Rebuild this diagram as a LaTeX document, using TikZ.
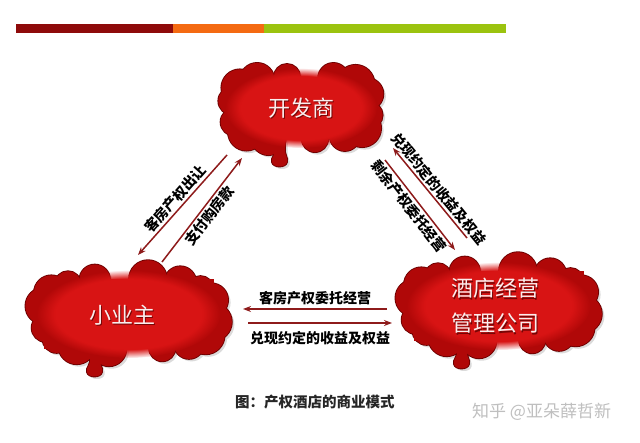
\documentclass[tikz,border=0pt]{standalone}
\usepackage{fontspec}
\newfontfamily\cjk{Noto Sans CJK SC}
\usetikzlibrary{arrows.meta,fadings}
\definecolor{barred}{HTML}{8E0A0A}
\definecolor{barorange}{HTML}{F46A12}
\definecolor{bargreen}{HTML}{9BC30F}
\definecolor{cloudbase}{HTML}{B00808}
\definecolor{cloudhi}{HTML}{D81414}
\definecolor{cloudedge}{HTML}{6E0000}
\definecolor{arrowred}{HTML}{8E1B1B}
\definecolor{cloudtext}{HTML}{FBEDED}
\tikzset{
  puffborder/.style={draw=cloudedge, line width=1.8pt, fill=cloudbase},
  pufffill/.style={fill=cloudbase},
  puffshadow/.style={fill=black!14},
  cloudlabel/.style={text=cloudtext, font=\cjk\fontsize{22}{35}\selectfont, align=center, inner sep=0pt},
  cloudlabelshadow/.style={text=black!70!red, opacity=0.7, font=\cjk\fontsize{22}{35}\selectfont, align=center, inner sep=0pt},
  arr/.style={-{Stealth[length=8pt,width=6pt]}, line width=1.5pt, draw=arrowred},
  lbl/.style={font=\cjk\bfseries\fontsize{14}{14}\selectfont, text=black, inner sep=2pt, sloped}
}
% #1 style, #2 cx, #3 cy, #4 inner half width, #5 inner half height, #6 number of puffs, #7 tail x
\newcommand\cloudpass[7]{%
  \foreach \i in {1,...,#6}{%
    \pgfmathsetmacro\tt{360*\i/#6+7}%
    \pgfmathsetmacro\cc{cos(\tt)}\pgfmathsetmacro\ss{sin(\tt)}%
    \pgfmathsetmacro\px{#2+#4*sign(\cc)*pow(abs(\cc),0.7)}%
    \pgfmathsetmacro\py{#3+#5*sign(\ss)*pow(abs(\ss),0.7)}%
    \pgfmathsetmacro\rr{16+3*sin(97*\i)}%
    \path[#1] (\px,\py) circle [radius=\rr];
  }%
  \pgfmathsetmacro\bb{#3+#5+15}%
  \path[#1] (#7-5,\bb-10) -- (#7-5,\bb-2) .. controls (#7-5,\bb+2) and (#7-9,\bb+3) .. (#7-8,\bb+8)
     .. controls (#7-7,\bb+14) and (#7+6,\bb+14) .. (#7+7,\bb+8)
     .. controls (#7+8,\bb+3) and (#7+5,\bb+2) .. (#7+5,\bb-2) -- (#7+5,\bb-10) -- cycle;
}
\begin{document}
\begin{tikzpicture}[x=1pt,y=-1pt]
\useasboundingbox (0,0) rectangle (640,443);
\fill[white] (0,0) rectangle (640,443);
% top bar
\fill[barred] (16,24.5) rectangle (173,33);
\fill[barorange] (173,24.5) rectangle (264,33);
\fill[bargreen] (264,24.5) rectangle (506,33);
% clouds (shapes drawn directly, labels as named nodes)
\begin{scope}[shift={(2.5,2.5)}]\cloudpass{puffshadow}{301}{108}{69}{31}{14}{280}\end{scope}
\cloudpass{puffborder}{301}{108}{69}{31}{14}{280}
\cloudpass{pufffill}{301}{108}{69}{31}{14}{280}
\fill[cloudbase] (232,77) rectangle (370,139);
\fill[cloudhi, path fading=circle with fuzzy edge 20 percent] (301,108) ellipse [x radius=76, y radius=40];
\node[cloudlabelshadow] (devs) at (302.2,109.2) {开发商};
\node[cloudlabel] (dev) at (301,108) {开发商};

\begin{scope}[shift={(2.5,2.5)}]\cloudpass{puffshadow}{128.5}{314}{85}{35}{16}{95}\end{scope}
\cloudpass{puffborder}{128.5}{314}{85}{35}{16}{95}
\cloudpass{pufffill}{128.5}{314}{85}{35}{16}{95}
\fill[cloudbase] (43.5,279) rectangle (213.5,349);
\fill[cloudhi, path fading=circle with fuzzy edge 20 percent] (128.5,314) ellipse [x radius=92, y radius=44];
\node[cloudlabelshadow] (owners) at (123.2,316.2) {小业主};
\node[cloudlabel] (owner) at (122,315) {小业主};

\begin{scope}[shift={(2.5,2.5)}]\cloudpass{puffshadow}{498.5}{306}{85}{35}{16}{462}\end{scope}
\cloudpass{puffborder}{498.5}{306}{85}{35}{16}{462}
\cloudpass{pufffill}{498.5}{306}{85}{35}{16}{462}
\fill[cloudbase] (413.5,271) rectangle (583.5,341);
\fill[cloudhi, path fading=circle with fuzzy edge 20 percent] (498.5,306) ellipse [x radius=92, y radius=44];
\node[cloudlabelshadow] (hotels) at (496.2,307.2) {酒店经营\\管理公司};
\node[cloudlabel] (hotel) at (495,306) {酒店经营\\管理公司};
% arrow end points
\coordinate (l1s) at (227,155); \coordinate (l1e) at (138,255);
\coordinate (l2s) at (162,262); \coordinate (l2e) at (242,158);
\coordinate (r1s) at (467,238); \coordinate (r1e) at (393,148);
\coordinate (r2s) at (385,160); \coordinate (r2e) at (455,250);
\coordinate (h1s) at (387,309); \coordinate (h1e) at (243,309);
\coordinate (h2s) at (248,323); \coordinate (h2e) at (392,323);
\draw[arr] (l1s) -- node[lbl, above, pos=0.5] {客房产权出让} (l1e);
\draw[arr] (l2s) -- node[lbl, below, pos=0.5] {支付购房款} (l2e);
\draw[arr] (r1s) -- node[lbl, above, pos=0.48] {兑现约定的收益及权益} (r1e);
\draw[arr] (r2s) -- node[lbl, below, pos=0.45] {剩余产权委托经营} (r2e);
\draw[arr] (h1s) -- node[lbl, above, inner sep=3pt] {客房产权委托经营} (h1e);
\draw[arr] (h2s) -- node[lbl, below=5pt, inner sep=3pt] {兑现约定的收益及权益} (h2e);
% caption
\node[font=\cjk\bfseries\fontsize{14.5}{15}\selectfont, text=black!85, anchor=west, inner sep=0pt] (cap) at (235,402) {图：产权酒店的商业模式};
\node[font=\cjk\fontsize{17}{17}\selectfont, text=black!25, anchor=west, inner sep=0pt] (wm) at (472,412) {知乎 @亚朵薛哲新};
\end{tikzpicture}
\end{document}
